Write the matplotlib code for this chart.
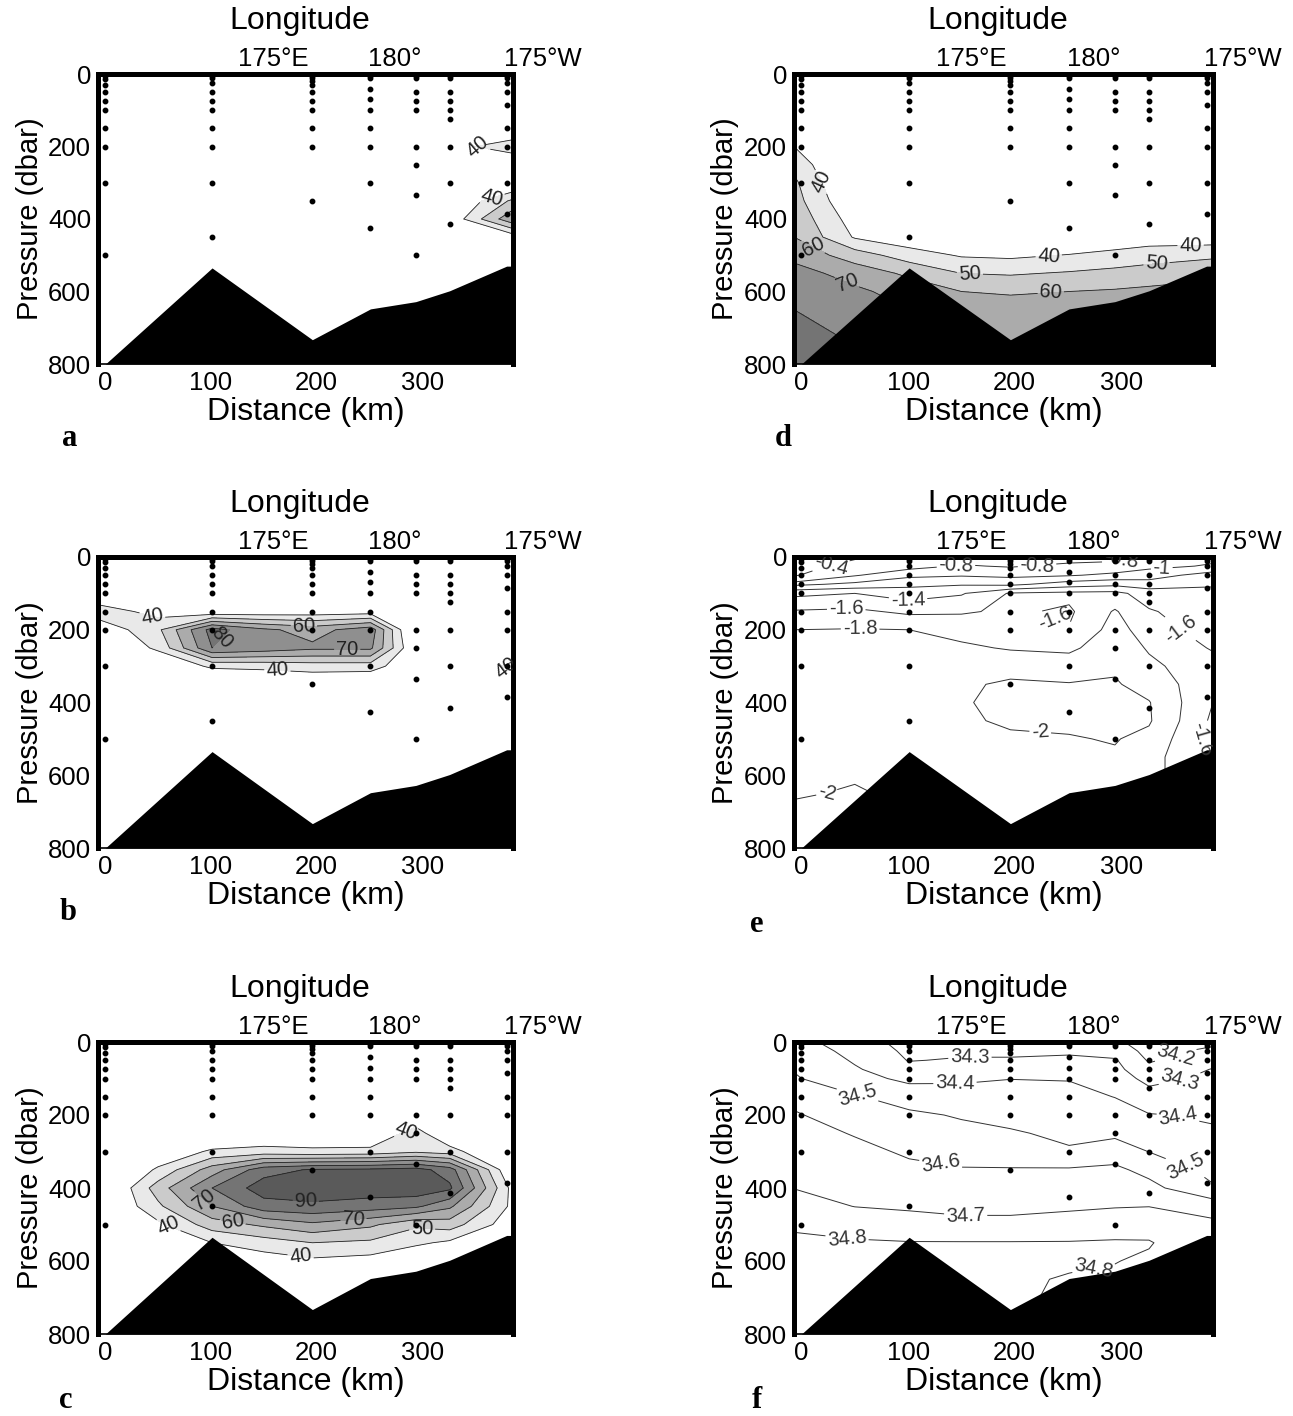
import numpy as np
import matplotlib
matplotlib.use("Agg")
import matplotlib.pyplot as plt
from matplotlib.transforms import blended_transform_factory

plt.rcParams["font.family"] = ["Liberation Sans", "DejaVu Sans"]
plt.rcParams["axes.unicode_minus"] = False

# stations along the section
station_km = [0, 101, 196, 251, 294, 326, 380]
bottom_dbar = [800, 535, 733, 648, 628, 598, 530]
x_edges = [-7, 386]

# bottle depths for each station
bottles = [
    [5, 15, 30, 50, 75, 100, 150, 200, 300, 500],
    [5, 12, 25, 50, 75, 100, 150, 200, 300, 450],
    [5, 12, 20, 30, 50, 75, 100, 150, 200, 350],
    [5, 12, 40, 70, 100, 150, 200, 300, 425],
    [5, 12, 50, 75, 100, 200, 250, 335, 500],
    [5, 12, 50, 75, 100, 125, 200, 300, 415],
    [5, 12, 25, 50, 85, 150, 200, 300, 385],
]

lon_km = [159, 274, 414]
lon_labels = ["175°E", "180°", "175°W"]

# gridded sections (rows = pressure, columns = distance)
grid_km = [-7, 50, 101, 150, 196, 251, 294, 326, 386]
grid_dbar = [0, 25, 50, 75, 100, 150, 200, 250, 300, 350, 400, 450, 500,
             550, 600, 650, 700, 750, 800]

cfc_a = [
    [20, 20, 20, 20, 20, 20, 20, 20, 22],
    [20, 20, 20, 20, 20, 20, 20, 20, 22],
    [20, 20, 20, 20, 20, 20, 20, 20, 22],
    [20, 20, 20, 20, 20, 20, 20, 21, 24],
    [20, 20, 20, 20, 20, 20, 22, 24, 28],
    [22, 22, 22, 22, 22, 22, 24, 26, 30],
    [24, 24, 24, 24, 24, 24, 25, 36, 46],
    [25, 25, 25, 25, 25, 25, 26, 27, 30],
    [26, 26, 26, 26, 26, 26, 27, 28, 28],
    [27, 27, 27, 27, 27, 27, 28, 28, 52],
    [28, 28, 28, 28, 28, 28, 29, 32, 68],
    [28, 28, 28, 28, 28, 28, 29, 30, 34],
    [28, 28, 28, 28, 28, 28, 28, 28, 30],
    [28, 28, 28, 28, 28, 28, 28, 28, 28],
    [28, 28, 28, 28, 28, 28, 28, 28, 28],
    [28, 28, 28, 28, 28, 28, 28, 28, 28],
    [28, 28, 28, 28, 28, 28, 28, 28, 28],
    [28, 28, 28, 28, 28, 28, 28, 28, 28],
    [28, 28, 28, 28, 28, 28, 28, 28, 28],
]

cfc_b = [
    [20, 20, 20, 20, 20, 20, 20, 20, 20],
    [20, 20, 20, 20, 20, 20, 20, 20, 20],
    [20, 20, 20, 20, 20, 20, 20, 20, 20],
    [22, 22, 22, 22, 22, 22, 22, 22, 22],
    [30, 24, 24, 24, 24, 24, 22, 22, 22],
    [46, 36, 32, 33, 34, 35, 25, 24, 24],
    [32, 48, 84, 72, 66, 76, 22, 25, 26],
    [28, 42, 80, 76, 72, 72, 28, 27, 30],
    [24, 30, 42, 43, 45, 45, 30, 28, 43],
    [22, 25, 26, 28, 30, 28, 26, 26, 30],
    [22, 22, 22, 22, 22, 22, 22, 22, 24],
    [22, 22, 22, 22, 22, 22, 22, 22, 22],
    [22, 22, 22, 22, 22, 22, 22, 22, 22],
    [22, 22, 22, 22, 22, 22, 22, 22, 22],
    [22, 22, 22, 22, 22, 22, 22, 22, 22],
    [22, 22, 22, 22, 22, 22, 22, 22, 22],
    [22, 22, 22, 22, 22, 22, 22, 22, 22],
    [22, 22, 22, 22, 22, 22, 22, 22, 22],
    [22, 22, 22, 22, 22, 22, 22, 22, 22],
]

cfc_c = [
    [15, 15, 15, 15, 15, 15, 15, 15, 15],
    [15, 15, 15, 15, 15, 15, 15, 15, 15],
    [15, 15, 15, 15, 15, 15, 15, 15, 15],
    [15, 15, 15, 15, 15, 15, 15, 15, 15],
    [15, 15, 16, 16, 17, 17, 18, 17, 16],
    [15, 16, 18, 19, 20, 20, 24, 20, 18],
    [15, 18, 20, 22, 24, 25, 30, 25, 20],
    [15, 20, 26, 30, 32, 30, 45, 28, 20],
    [15, 30, 42, 44, 42, 43, 48, 45, 22],
    [20, 42, 65, 86, 91, 92, 94, 85, 28],
    [22, 55, 80, 95, 96, 96, 97, 92, 36],
    [25, 48, 70, 86, 88, 85, 82, 72, 37],
    [15, 38, 55, 62, 68, 62, 52, 55, 33],
    [10, 25, 40, 45, 50, 48, 42, 38, 28],
    [10, 15, 30, 35, 38, 36, 30, 25, 20],
    [10, 12, 25, 28, 30, 28, 22, 20, 15],
    [10, 10, 20, 22, 25, 22, 18, 15, 12],
    [10, 10, 20, 22, 25, 22, 18, 15, 12],
    [10, 10, 20, 22, 25, 22, 18, 15, 12],
]

cfc_d = [
    [20, 18, 18, 18, 18, 18, 18, 18, 18],
    [20, 18, 18, 18, 18, 18, 18, 18, 18],
    [20, 18, 18, 18, 18, 18, 18, 18, 18],
    [20, 18, 18, 18, 18, 18, 18, 18, 18],
    [22, 18, 18, 18, 18, 18, 18, 18, 18],
    [32, 20, 18, 18, 18, 18, 18, 18, 18],
    [40, 22, 20, 20, 20, 20, 20, 20, 20],
    [47, 24, 21, 21, 21, 21, 22, 22, 22],
    [52, 26, 22, 22, 22, 23, 24, 25, 25],
    [54, 30, 24, 23, 23, 25, 26, 27, 27],
    [57, 35, 28, 25, 24, 27, 29, 30, 29],
    [60, 39, 33, 30, 28, 30, 33, 35, 34],
    [67, 55, 45, 39, 38, 40.5, 43, 45, 48],
    [74, 66, 58, 50, 49, 51, 53, 55, 58],
    [78, 72, 66, 60, 59, 60, 61, 62, 63],
    [80, 75, 70, 66, 64, 64, 66, 66, 66],
    [82, 78, 72, 70, 68, 66, 68, 68, 68],
    [83, 80, 74, 72, 70, 68, 70, 70, 70],
    [84, 82, 76, 74, 72, 70, 72, 72, 72],
]

temp_e = [
    [-0.2, -0.36, -0.55, -0.7, -0.75, -0.7, -0.75, -0.85, -0.95],
    [-0.28, -0.5, -0.72, -0.82, -0.78, -0.85, -0.85, -0.95, -1.02],
    [-0.36, -0.78, -0.95, -0.98, -0.95, -0.98, -1.05, -1.1, -1.3],
    [-0.95, -1.05, -1.15, -1.18, -1.15, -1.3, -1.35, -1.3, -1.38],
    [-1.35, -1.4, -1.3, -1.38, -1.62, -1.65, -1.66, -1.5, -1.45],
    [-1.62, -1.64, -1.56, -1.58, -1.63, -1.57, -1.82, -1.62, -1.48],
    [-1.8, -1.81, -1.8, -1.72, -1.63, -1.61, -1.88, -1.7, -1.5],
    [-1.84, -1.85, -1.86, -1.84, -1.78, -1.76, -1.92, -1.78, -1.58],
    [-1.87, -1.88, -1.9, -1.93, -1.95, -1.9, -1.97, -1.84, -1.68],
    [-1.9, -1.91, -1.93, -1.98, -2.02, -2.01, -2.02, -1.92, -1.66],
    [-1.92, -1.93, -1.95, -1.99, -2.03, -2.04, -2.05, -2.01, -1.6],
    [-1.94, -1.95, -1.96, -1.99, -2.01, -2.03, -2.04, -2.02, -1.56],
    [-1.95, -1.96, -1.97, -1.98, -1.99, -1.99, -2.01, -1.95, -1.53],
    [-1.96, -1.97, -1.98, -1.98, -1.98, -1.98, -1.98, -1.9, -1.5],
    [-1.97, -1.99, -1.98, -1.98, -1.98, -1.98, -1.97, -1.9, -1.5],
    [-1.99, -2.01, -1.98, -1.98, -1.98, -1.98, -1.97, -1.9, -1.5],
    [-2.02, -2.02, -1.98, -1.98, -1.98, -1.98, -1.97, -1.9, -1.5],
    [-2.02, -2.02, -1.98, -1.98, -1.98, -1.98, -1.97, -1.9, -1.5],
    [-2.02, -2.02, -1.98, -1.98, -1.98, -1.98, -1.97, -1.9, -1.5],
]

salt_f = [
    [34.44, 34.34, 34.27, 34.26, 34.26, 34.27, 34.22, 34.15, 34.18],
    [34.46, 34.37, 34.28, 34.28, 34.28, 34.285, 34.26, 34.17, 34.22],
    [34.48, 34.39, 34.295, 34.31, 34.31, 34.32, 34.31, 34.19, 34.26],
    [34.495, 34.41, 34.34, 34.355, 34.36, 34.36, 34.33, 34.225, 34.305],
    [34.51, 34.43, 34.38, 34.385, 34.398, 34.395, 34.35, 34.27, 34.32],
    [34.57, 34.51, 34.45, 34.44, 34.44, 34.43, 34.398, 34.34, 34.36],
    [34.61, 34.55, 34.52, 34.49, 34.47, 34.455, 34.44, 34.405, 34.39],
    [34.63, 34.595, 34.56, 34.53, 34.51, 34.48, 34.48, 34.45, 34.41],
    [34.65, 34.62, 34.59, 34.57, 34.56, 34.51, 34.55, 34.498, 34.44],
    [34.67, 34.65, 34.615, 34.605, 34.605, 34.61, 34.62, 34.57, 34.47],
    [34.698, 34.675, 34.65, 34.64, 34.64, 34.65, 34.655, 34.63, 34.51],
    [34.74, 34.698, 34.69, 34.68, 34.68, 34.685, 34.695, 34.698, 34.66],
    [34.785, 34.76, 34.73, 34.72, 34.72, 34.74, 34.75, 34.77, 34.72],
    [34.82, 34.81, 34.805, 34.805, 34.805, 34.805, 34.81, 34.805, 34.74],
    [34.83, 34.83, 34.82, 34.82, 34.81, 34.81, 34.802, 34.79, 34.75],
    [34.83, 34.83, 34.82, 34.82, 34.81, 34.795, 34.79, 34.78, 34.75],
    [34.83, 34.83, 34.82, 34.82, 34.81, 34.79, 34.78, 34.78, 34.75],
    [34.83, 34.83, 34.82, 34.82, 34.81, 34.79, 34.78, 34.78, 34.75],
    [34.83, 34.83, 34.82, 34.82, 34.81, 34.79, 34.78, 34.78, 34.75],
]

cfc_levels = [40, 50, 60, 70, 80, 90, 200]
cfc_grays = ["#e9e9e9", "#cbcbcb", "#ababab", "#8f8f8f", "#747474", "#5a5a5a"]
temp_levels = [-2.0, -1.8, -1.6, -1.4, -1.2, -1.0, -0.8, -0.4]
salt_levels = [34.2, 34.3, 34.4, 34.5, 34.6, 34.7, 34.8]

# where the contour labels sit (km, dbar)
labels_a = [(352, 205), (366, 341)]
labels_b = [(44, 167), (113, 228), (188, 190), (229, 237), (163, 305), (380, 300)]
labels_c = [(285, 245), (90, 445), (190, 430), (235, 488), (120, 505),
            (300, 505), (60, 500), (185, 585)]
labels_d = [(22, 292), (12, 470), (44, 565), (158, 546), (232, 505),
            (234, 610), (333, 524), (365, 478)]
labels_e = [(29, 40), (145, 25), (42, 138), (100, 118), (55, 200), (235, 187),
            (221, 25), (300, 10), (338, 32), (352, 210), (375, 500),
            (224, 480), (25, 660)]
labels_f = [(158, 42), (144, 114), (53, 140), (130, 344), (154, 476), (43, 530),
            (274, 620), (352, 45), (356, 118), (352, 222), (360, 345)]

W, H = 1293, 1416


def rect(left, top, right, bottom):
    return [left / W, 1 - bottom / H, (right - left) / W, (bottom - top) / H]


def draw_section(ax, field, kind, levels, label_pos):
    X, P = np.meshgrid(grid_km, grid_dbar)
    Z = np.array(field, dtype=float)
    if kind == "fill":
        ax.contourf(X, P, Z, levels=levels, colors=cfc_grays, zorder=1)
        cs = ax.contour(X, P, Z, levels=levels[:-1], colors="#222222",
                        linewidths=0.6, zorder=2)
    else:
        cs = ax.contour(X, P, Z, levels=levels, colors="#333333",
                        linewidths=0.7, negative_linestyles="solid", zorder=2)
    ax.clabel(cs, fmt=lambda v: f"{v:g}", fontsize=14.5, inline=True,
              inline_spacing=2, manual=label_pos)

    # sea floor
    xs = np.append(station_km, x_edges[1])
    ys = np.append(bottom_dbar, bottom_dbar[-1])
    ax.fill_between(xs, ys, 800, color="black", zorder=3, linewidth=0)

    for km, depths in zip(station_km, bottles):
        ax.plot([km] * len(depths), depths, "o", ms=3.2, color="black",
                zorder=4, clip_on=False)

    ax.set_xlim(x_edges)
    ax.set_ylim(800, 0)
    ax.set_xticks([0, 100, 200, 300])
    ax.set_yticks([0, 200, 400, 600, 800])
    ax.tick_params(length=0, labelsize=18.5, pad=5)
    for side in ["top", "left", "right"]:
        ax.spines[side].set_linewidth(3.6)
    ax.spines["bottom"].set_linewidth(1.2)

    ax.set_xlabel("Distance (km)", fontsize=23)
    ax.xaxis.set_label_coords(0.5, -0.165)
    ax.xaxis.label.set_va("center")
    ax.set_ylabel("Pressure (dbar)", fontsize=21)
    ax.yaxis.set_label_coords(-0.165, 0.5)
    ax.yaxis.label.set_va("center")

    ax.text(0.487, 1.183, "Longitude", transform=ax.transAxes, fontsize=23,
            ha="center", va="center")
    tr = blended_transform_factory(ax.transData, ax.transAxes)
    for km, lab in zip(lon_km, lon_labels):
        ax.text(km, 1.05, lab, transform=tr, fontsize=18.5, ha="center",
                va="center", clip_on=False)


def main():
    fig = plt.figure(figsize=(W / 100, H / 100), dpi=100)

    panels = [
        (rect(98, 74, 513, 364), cfc_a, "fill", cfc_levels, labels_a, "a", (70, 438)),
        (rect(98, 557, 513, 848), cfc_b, "fill", cfc_levels, labels_b, "b", (68, 913)),
        (rect(98, 1042, 513, 1334), cfc_c, "fill", cfc_levels, labels_c, "c", (66, 1400)),
        (rect(794, 74, 1213, 364), cfc_d, "fill", cfc_levels, labels_d, "d", (783, 438)),
        (rect(794, 557, 1213, 848), temp_e, "line", temp_levels, labels_e, "e", (757, 925)),
        (rect(794, 1042, 1213, 1334), salt_f, "line", salt_levels, labels_f, "f", (757, 1400)),
    ]

    for box, field, kind, levels, lab_pos, letter, lpos in panels:
        ax = fig.add_axes(box)
        draw_section(ax, field, kind, levels, lab_pos)
        fig.text(lpos[0] / W, 1 - lpos[1] / H, letter, fontsize=22,
                 fontweight="bold", family="Liberation Serif",
                 ha="center", va="center")

    fig.savefig("out.png", dpi=100)


main()
